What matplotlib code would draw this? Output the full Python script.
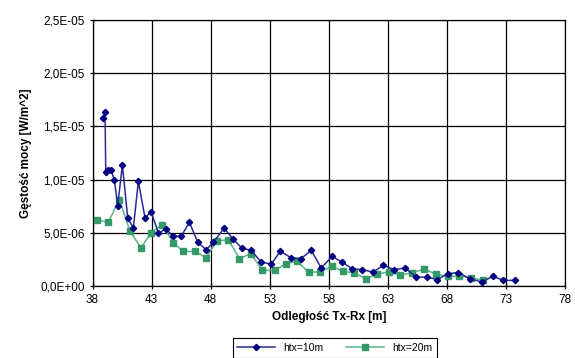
import matplotlib
matplotlib.use("Agg")
import matplotlib.pyplot as plt
from matplotlib.ticker import FuncFormatter, MultipleLocator, FixedLocator

plt.rcParams['font.family'] = ['Liberation Sans', 'DejaVu Sans']

# Distance Tx-Rx [m] and power density [W/m^2] for two transmitter heights
dist_10 = [38.92, 39.06, 39.12, 39.34, 39.57, 39.85, 40.13, 40.53, 40.98, 41.46,
           41.88, 42.45, 42.96, 43.58, 44.23, 44.80, 45.50, 46.20, 46.90, 47.62,
           48.24, 49.14, 49.88, 50.64, 51.43, 52.28, 53.13, 53.90, 54.82, 55.64,
           56.52, 57.36, 58.27, 59.12, 59.96, 60.81, 61.74, 62.62, 63.55, 64.46,
           65.39, 66.30, 67.20, 68.08, 68.97, 69.96, 70.95, 71.89, 72.79, 73.78]
power_10 = [15.75e-6, 16.4e-6, 10.7e-6, 10.9e-6, 10.9e-6, 9.97e-6, 7.56e-6, 11.38e-6, 6.37e-6, 5.47e-6,
            9.84e-6, 6.37e-6, 7.0e-6, 4.97e-6, 5.38e-6, 4.66e-6, 4.66e-6, 6.0e-6, 4.12e-6, 3.41e-6,
            4.12e-6, 5.44e-6, 4.44e-6, 3.56e-6, 3.35e-6, 2.25e-6, 2.06e-6, 3.25e-6, 2.66e-6, 2.57e-6,
            3.35e-6, 1.69e-6, 2.78e-6, 2.25e-6, 1.63e-6, 1.54e-6, 1.31e-6, 1.94e-6, 1.54e-6, 1.69e-6,
            0.84e-6, 0.84e-6, 0.60e-6, 1.16e-6, 1.26e-6, 0.69e-6, 0.37e-6, 0.91e-6, 0.53e-6, 0.53e-6]

dist_20 = [38.36, 39.34, 40.27, 41.18, 42.11, 42.96, 43.90, 44.85, 45.70, 46.66,
           47.62, 48.52, 49.50, 50.44, 51.40, 52.39, 53.41, 54.40, 55.30, 56.29,
           57.28, 58.27, 59.20, 60.16, 61.15, 62.10, 63.13, 64.04, 65.05, 66.08,
           67.09, 68.06, 69.03, 70.02, 71.04]
power_20 = [6.22e-6, 6.0e-6, 8.13e-6, 5.13e-6, 3.6e-6, 5.0e-6, 5.78e-6, 4.03e-6, 3.25e-6, 3.25e-6,
            2.66e-6, 4.22e-6, 4.35e-6, 2.57e-6, 3.04e-6, 1.47e-6, 1.47e-6, 2.1e-6, 2.34e-6, 1.31e-6,
            1.31e-6, 1.87e-6, 1.38e-6, 1.22e-6, 0.69e-6, 1.1e-6, 1.35e-6, 1.0e-6, 1.26e-6, 1.58e-6,
            1.12e-6, 0.91e-6, 0.91e-6, 0.79e-6, 0.53e-6]

x_ticks = [38, 43, 48, 53, 58, 63, 68, 73, 78]
series_labels = ["htx=10m", "htx=20m"]

fig = plt.figure(figsize=(5.75, 3.58), dpi=100)
ax = fig.add_axes([0.1609, 0.2011, 0.8217, 0.7430])

ax.plot(dist_10, power_10, color='#2a2a96', lw=1.1, marker='D', ms=3.2,
        mfc='#000080', mec='#000080', label=series_labels[0], zorder=4)
ax.plot(dist_20, power_20, color='#5bb38a', lw=1.1, marker='s', ms=4.6,
        mfc='#339966', mec='#339966', label=series_labels[1], zorder=3)

ax.set_xlim(x_ticks[0], x_ticks[-1])
ax.set_ylim(0, 2.5e-5)
ax.xaxis.set_major_locator(FixedLocator(x_ticks))
ax.yaxis.set_major_locator(MultipleLocator(5e-6))

def sci_comma(v, pos):
    s = "%.1E" % v
    mant, exp = s.split("E")
    sign = exp[0]
    digits = exp[1:].rjust(2, "0")
    return mant.replace(".", ",") + "E" + sign + digits

ax.yaxis.set_major_formatter(FuncFormatter(sci_comma))
ax.grid(True, color='black', lw=0.9)
ax.set_axisbelow(True)
for sp in ax.spines.values():
    sp.set_color('black')
    sp.set_linewidth(0.9)

ax.tick_params(direction='inout', length=5, width=0.9, labelsize=8.5, colors='black', pad=3)

ax.set_xlabel("Odległość Tx-Rx [m]", fontsize=8.5, fontweight='bold', labelpad=4)
ax.set_ylabel("Gęstość mocy [W/m^2]", fontsize=8.5, fontweight='bold', labelpad=6)

leg = fig.legend(loc='lower center', bbox_to_anchor=(0.582, -0.005), ncol=2, fontsize=7.5,
                 frameon=True, fancybox=False, edgecolor='black', framealpha=1,
                 handlelength=3.6, columnspacing=2.2, borderpad=0.45, borderaxespad=0.2)
leg.get_frame().set_linewidth(0.8)

fig.savefig("out.png", dpi=100)
